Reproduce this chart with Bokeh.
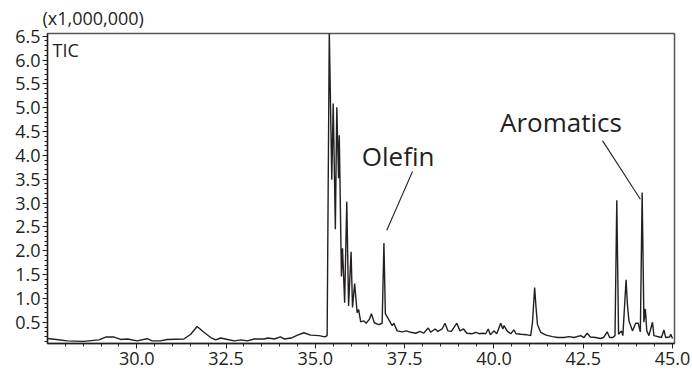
from bokeh.plotting import figure
from bokeh.models import Range1d, FixedTicker, PrintfTickFormatter, Label, ColumnDataSource
from bokeh.core.properties import value
from bokeh.embed import file_html
from bokeh.resources import INLINE

# Retention time (min) and TIC intensity (x1,000,000)
rt = [27.50, 27.75, 28.05, 28.50, 28.94, 29.13, 29.36, 29.55, 29.74, 30.01,
      30.29, 30.43, 30.66, 30.85, 31.32, 31.51, 31.69, 31.88, 32.07, 32.21,
      32.35, 32.54, 32.73, 32.92, 33.09, 33.29, 33.57, 33.67, 33.85, 34.02,
      34.13, 34.32, 34.50, 34.68, 34.87, 35.10, 35.27, 35.33, 35.39, 35.46,
      35.50, 35.56, 35.60, 35.65, 35.67, 35.73, 35.76, 35.82, 35.88, 35.93,
      36.00, 36.04, 36.10, 36.17, 36.21, 36.27, 36.36, 36.42, 36.51, 36.57,
      36.65, 36.77, 36.87, 36.92, 36.96, 37.06, 37.15, 37.20, 37.29, 37.43,
      37.55, 37.67, 37.81, 37.93, 38.03, 38.16, 38.23, 38.35, 38.43, 38.55,
      38.63, 38.71, 38.81, 38.96, 39.05, 39.15, 39.24, 39.40, 39.49, 39.59,
      39.68, 39.77, 39.84, 39.90, 40.00, 40.08, 40.19, 40.25, 40.28, 40.38,
      40.47, 40.56, 40.62, 40.76, 40.91, 41.03, 41.08, 41.14, 41.18, 41.22,
      41.31, 41.46, 41.64, 41.78, 41.96, 42.10, 42.24, 42.43, 42.52, 42.61,
      42.70, 42.85, 42.98, 43.07, 43.17, 43.24, 43.33, 43.39, 43.44, 43.49,
      43.57, 43.61, 43.70, 43.74, 43.78, 43.88, 43.97, 44.04, 44.10, 44.15,
      44.20, 44.24, 44.28, 44.34, 44.44, 44.48, 44.69, 44.76, 44.81, 44.92,
      44.95, 45.00]
tic = [0.16, 0.14, 0.11, 0.10, 0.13, 0.19, 0.19, 0.14, 0.15, 0.11,
       0.155, 0.11, 0.11, 0.14, 0.15, 0.25, 0.41, 0.29, 0.18, 0.13,
       0.17, 0.14, 0.11, 0.13, 0.11, 0.15, 0.15, 0.17, 0.15, 0.195,
       0.15, 0.17, 0.23, 0.28, 0.23, 0.22, 0.195, 0.22, 6.60, 3.49,
       5.09, 2.45, 5.01, 3.52, 4.42, 1.46, 2.05, 0.91, 3.03, 0.84,
       1.98, 0.81, 1.31, 0.70, 0.77, 0.51, 0.53, 0.48, 0.56, 0.68,
       0.49, 0.45, 0.48, 2.16, 0.68, 0.55, 0.43, 0.48, 0.32, 0.30,
       0.32, 0.29, 0.27, 0.31, 0.27, 0.38, 0.29, 0.36, 0.31, 0.36,
       0.48, 0.32, 0.31, 0.48, 0.32, 0.36, 0.27, 0.26, 0.29, 0.26,
       0.27, 0.26, 0.36, 0.24, 0.32, 0.26, 0.48, 0.36, 0.43, 0.31,
       0.26, 0.34, 0.26, 0.25, 0.24, 0.22, 0.50, 1.23, 0.80, 0.45,
       0.29, 0.23, 0.20, 0.18, 0.18, 0.20, 0.18, 0.22, 0.18, 0.27,
       0.19, 0.18, 0.16, 0.18, 0.30, 0.18, 0.18, 0.22, 3.06, 0.25,
       0.32, 0.22, 1.39, 0.85, 0.53, 0.32, 0.48, 0.48, 0.30, 3.22,
       0.50, 0.78, 0.32, 0.22, 0.50, 0.22, 0.18, 0.34, 0.18, 0.19,
       0.25, 0.16]

x_major = [30.0, 32.5, 35.0, 37.5, 40.0, 42.5, 45.0]
x_minor = [28.0, 28.5, 29.0, 29.5, 30.0, 30.5, 31.0, 31.5, 32.0, 32.5, 33.0,
           33.5, 34.0, 34.5, 35.0, 35.5, 36.0, 36.5, 37.0, 37.5, 38.0, 38.5,
           39.0, 39.5, 40.0, 40.5, 41.0, 41.5, 42.0, 42.5, 43.0, 43.5, 44.0,
           44.5, 45.0]
y_major = [0.5, 1.0, 1.5, 2.0, 2.5, 3.0, 3.5, 4.0, 4.5, 5.0, 5.5, 6.0, 6.5]
y_minor = [round(0.1 * i, 1) for i in range(1, 66)]

ann_text = ["Olefin", "Aromatics"]
ann_x = [36.30, 40.17]
ann_y = [3.98, 4.70]
lead_x0 = [37.72, 43.04]
lead_y0 = [3.66, 4.31]
lead_x1 = [37.00, 44.10]
lead_y1 = [2.43, 3.08]

INK = "#231f20"
FONT = "Open Sans"

p = figure(width=692, height=371, output_backend="svg", toolbar_location=None,
           x_range=Range1d(27.5, 45.056), y_range=Range1d(0.055, 6.556),
           min_border_left=47, min_border_right=18, min_border_top=31,
           min_border_bottom=28, background_fill_color="white",
           border_fill_color="white")

p.title.text = "(x1,000,000)"
p.title.text_font = FONT
p.title.text_font_size = "18px"
p.title.text_font_style = "normal"
p.title.text_color = INK
p.title.align = "left"
p.title.offset = -5
p.title.standoff = 7

p.line(rt, tic, line_color=INK, line_width=1.4)

src = ColumnDataSource(dict(x=ann_x, y=ann_y, t=ann_text))
p.text(x="x", y="y", text="t", source=src, text_font=value(FONT),
       text_font_size="26px", text_color=INK, text_baseline="alphabetic",
       text_align="left")
lsrc = ColumnDataSource(dict(x0=lead_x0, y0=lead_y0, x1=lead_x1, y1=lead_y1))
p.segment(x0="x0", y0="y0", x1="x1", y1="y1", source=lsrc, line_color=INK,
          line_width=1.1)

p.add_layout(Label(x=27.5, y=6.556, x_offset=5, y_offset=-16, text="TIC",
                   text_font=FONT, text_font_size="18px", text_color=INK,
                   text_baseline="alphabetic"))

p.xaxis.ticker = FixedTicker(ticks=x_major, minor_ticks=x_minor)
p.yaxis.ticker = FixedTicker(ticks=y_major, minor_ticks=y_minor)
p.xaxis.formatter = PrintfTickFormatter(format="%.1f")
p.yaxis.formatter = PrintfTickFormatter(format="%.1f")
for ax in (p.xaxis[0], p.yaxis[0]):
    ax.major_tick_in = 0
    ax.major_tick_out = 5
    ax.minor_tick_in = 0
    ax.minor_tick_out = 3
    ax.axis_line_color = INK
    ax.axis_line_width = 1.3
    ax.major_tick_line_color = INK
    ax.minor_tick_line_color = INK
    ax.major_label_text_font = FONT
    ax.major_label_text_font_size = "18px"
    ax.major_label_text_color = INK
p.xaxis.major_label_standoff = 3
p.yaxis.major_label_standoff = 2

p.xgrid.visible = False
p.ygrid.visible = False
p.outline_line_color = "#555555"
p.outline_line_width = 1.5

open("out.html", "w").write(file_html(p, INLINE))
